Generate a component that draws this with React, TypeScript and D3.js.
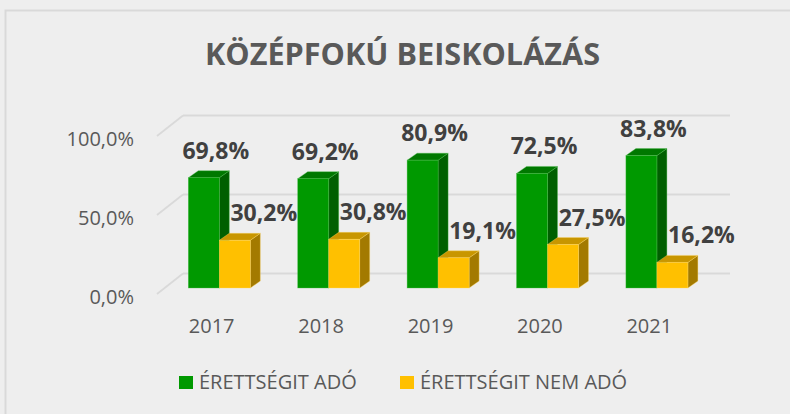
import React from "react";
import * as d3 from "d3";

const categories = ["2017", "2018", "2019", "2020", "2021"];
const seriesNames = ["ÉRETTSÉGIT ADÓ", "ÉRETTSÉGIT NEM ADÓ"];
const erettsegitAdo = [69.8, 69.2, 80.9, 72.5, 83.8];
const erettsegitNemAdo = [30.2, 30.8, 19.1, 27.5, 16.2];
const yTicks = [0, 50, 100];
const title = "KÖZÉPFOKÚ BEISKOLÁZÁS";

const W = 790;
const H = 414;
const FONT = "'Open Sans', 'DejaVu Sans', sans-serif";

const faces = [
  { front: "#009900", top: "#007800", side: "#005f00", stroke: "#4fbf4f" },
  { front: "#FFC000", top: "#c89600", side: "#a37a00", stroke: "#ffd966" },
];

const fmt = (v: number) => v.toFixed(1).replace(".", ",") + "%";

export default function App() {
  // front wall plane (depth 0)
  const x = d3.scaleBand<string>().domain(categories).range([157, 704]).padding(0);
  const y = d3.scaleLinear().domain([0, 100]).range([294, 136]);
  const depth = { dx: 26, dy: -20.5 }; // full floor depth
  const barOff = { dx: 7.6, dy: -6 }; // bar front plane offset
  const cap = { dx: 10, dy: -7 }; // bar depth
  const barW = 31;
  const series = [erettsegitAdo, erettsegitNemAdo];
  const labelDx = [12, 29];

  const bars: React.ReactNode[] = [];
  const labels: React.ReactNode[] = [];
  categories.forEach((c, ci) => {
    const center = (x(c) as number) + x.bandwidth() / 2 + barOff.dx;
    series.forEach((s, si) => {
      const v = s[ci];
      const left = center - barW + si * barW;
      const top = y(v) + barOff.dy;
      const bottom = y(0) + barOff.dy;
      const f = faces[si];
      const topPts = [
        [left, top],
        [left + cap.dx, top + cap.dy],
        [left + barW + cap.dx, top + cap.dy],
        [left + barW, top],
      ];
      const sidePts = [
        [left + barW, top],
        [left + barW + cap.dx, top + cap.dy],
        [left + barW + cap.dx, bottom + cap.dy],
        [left + barW, bottom],
      ];
      bars.push(
        <g key={`b-${ci}-${si}`}>
          <polygon points={sidePts.map((p) => p.join(",")).join(" ")} fill={f.side} stroke={f.stroke} strokeWidth={0.6} strokeOpacity={0.6} />
          <polygon points={topPts.map((p) => p.join(",")).join(" ")} fill={f.top} stroke={f.stroke} strokeWidth={0.6} strokeOpacity={0.6} />
          <rect x={left} y={top} width={barW} height={bottom - top} fill={f.front} stroke={f.stroke} strokeWidth={0.6} strokeOpacity={0.6} />
        </g>
      );
      labels.push(
        <text
          key={`l-${ci}-${si}`}
          x={left + barW / 2 + labelDx[si]}
          y={top - 19}
          textAnchor="middle"
          fontFamily={FONT}
          fontWeight="bold"
          fontSize={23}
          fill="#404040"
        >
          {fmt(v)}
        </text>
      );
    });
  });

  const x0 = 157;
  const x1 = 704;

  return (
    <div style={{ position: "fixed", left: 0, top: 0, width: W, height: H, background: "#eeeeee" }}>
      <svg width={W} height={H} style={{ display: "block" }}>
        <rect x={0} y={0} width={W} height={H} fill="#eeeeee" />
        <rect x={5.5} y={10.5} width={W + 20} height={H + 20} fill="#eeeeee" stroke="#d9d9d9" strokeWidth={2} />
        <text
          x={402.5}
          y={65}
          textAnchor="middle"
          fontFamily={FONT}
          fontWeight="bold"
          fontSize={30}
          fill="#595959"
          textLength={395}
          lengthAdjust="spacingAndGlyphs"
        >
          {title}
        </text>
        {/* gridlines: left wall diagonal + back wall */}
        {yTicks.map((t) => (
          <g key={`g-${t}`}>
            <line x1={x0} y1={y(t)} x2={x0 + depth.dx} y2={y(t) + depth.dy} stroke="#d9d9d9" strokeWidth={1.8} />
            <line x1={x0 + depth.dx} y1={y(t) + depth.dy} x2={x1 + depth.dx} y2={y(t) + depth.dy} stroke="#d9d9d9" strokeWidth={1.8} />
            <text
              x={134}
              y={y(t) + 9.5}
              textAnchor="end"
              fontFamily={FONT}
              fontSize={20}
              fill="#595959"
            >
              {fmt(t)}
            </text>
          </g>
        ))}
        {bars}
        {labels}
        {categories.map((c) => (
          <text
            key={`c-${c}`}
            x={(x(c) as number) + x.bandwidth() / 2}
            y={333}
            textAnchor="middle"
            fontFamily={FONT}
            fontSize={20}
            fill="#595959"
          >
            {c}
          </text>
        ))}
        {/* legend */}
        {seriesNames.map((n, i) => {
          const lx = i === 0 ? 179 : 400;
          return (
            <g key={`leg-${i}`}>
              <rect x={lx} y={376} width={14} height={13} fill={faces[i].front} />
              <text x={lx + 20} y={389} fontFamily={FONT} fontSize={20} fill="#595959">
                {n}
              </text>
            </g>
          );
        })}
      </svg>
    </div>
  );
}
